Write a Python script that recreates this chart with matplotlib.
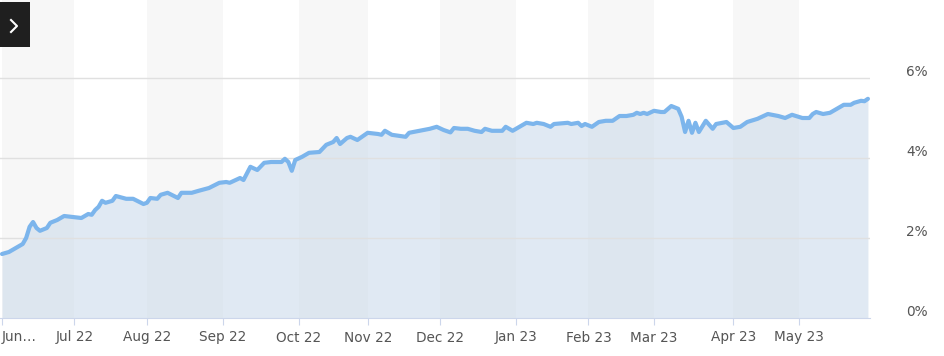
import matplotlib
matplotlib.use("Agg")
import matplotlib.pyplot as plt
import matplotlib.transforms as mtransforms
from matplotlib.lines import Line2D
from matplotlib.patches import Rectangle
import numpy as np

# trading-day index and yield (%)
day_idx = [0, 2, 4, 6, 7, 8, 9, 10, 11, 13, 14, 16, 18, 20, 23, 25, 26, 27, 28, 29,
           30, 32, 33, 36, 38, 41, 42, 43, 45, 46, 48, 51, 52, 55, 57, 60, 63, 65, 66, 69,
           70, 72, 74, 76, 78, 81, 82, 83, 84, 85, 87, 89, 92, 94, 96, 97, 98, 100, 101, 103,
           106, 109, 110, 111, 113, 117, 118, 121, 124, 126, 128, 130, 131, 133, 135, 137, 139, 140, 142, 145,
           146, 148, 152, 154, 155, 157, 159, 160, 164, 165, 167, 168, 169, 171, 173, 175, 177, 179, 181, 183,
           184, 185, 186, 187, 189, 191, 192, 194, 196, 197, 198, 199, 200, 201, 202, 204, 205, 206, 207, 210,
           212, 214, 216, 219, 222, 225, 227, 229, 232, 234, 235, 236, 238, 240, 242, 244, 246, 247, 249, 250,
           251]
yield_pct = [1.60, 1.65, 1.75, 1.85, 2.00, 2.28, 2.40, 2.25, 2.18, 2.25, 2.38, 2.45, 2.55, 2.53, 2.50, 2.60, 2.58, 2.70, 2.78, 2.93,
             2.88, 2.93, 3.05, 2.98, 2.98, 2.85, 2.88, 3.00, 2.98, 3.08, 3.13, 3.00, 3.13, 3.13, 3.18, 3.25, 3.38, 3.40, 3.38, 3.50,
             3.45, 3.78, 3.70, 3.88, 3.90, 3.90, 3.98, 3.90, 3.68, 3.95, 4.03, 4.13, 4.15, 4.33, 4.40, 4.50, 4.35, 4.50, 4.53, 4.45,
             4.63, 4.60, 4.58, 4.68, 4.58, 4.53, 4.63, 4.68, 4.73, 4.78, 4.70, 4.64, 4.75, 4.73, 4.73, 4.68, 4.65, 4.73, 4.68, 4.68,
             4.78, 4.68, 4.88, 4.85, 4.88, 4.85, 4.78, 4.85, 4.88, 4.85, 4.88, 4.80, 4.85, 4.78, 4.90, 4.93, 4.93, 5.05, 5.05, 5.08,
             5.13, 5.10, 5.13, 5.10, 5.18, 5.15, 5.15, 5.30, 5.23, 5.03, 4.65, 4.93, 4.63, 4.88, 4.65, 4.93, 4.83, 4.73, 4.85, 4.90,
             4.75, 4.78, 4.90, 4.98, 5.10, 5.05, 5.00, 5.08, 5.00, 5.00, 5.10, 5.15, 5.10, 5.13, 5.23, 5.33, 5.33, 5.38, 5.43, 5.42,
             5.48]

# trading days per month, Jun 22 .. May 23
month_labels = ["Jun\u2026", "Jul 22", "Aug 22", "Sep 22", "Oct 22", "Nov 22", "Dec 22",
                "Jan 23", "Feb 23", "Mar 23", "Apr 23", "May 23"]
month_days = [21, 21, 22, 22, 20, 21, 22, 21, 19, 23, 19, 21]
y_ticks = [0, 2, 4, 6]

month_start = np.concatenate([[0], np.cumsum(month_days)[:-1]])

W, H = 944, 356
fig = plt.figure(figsize=(W / 100, H / 100), dpi=100)
ax = fig.add_axes([0 / W, (H - 318) / H, 870 / W, 318 / H])

x0, x1 = -0.58, 251.6
ax.set_xlim(x0, x1)
ax.set_ylim(0, 7.95)

# alternate month bands
edges = list(month_start) + [x1]
for i in range(len(month_start)):
    if i % 2 == 0:
        ax.axvspan(max(edges[i], x0), edges[i + 1], color="#f7f7f7", lw=0, zorder=0)

ax.fill_between(day_idx, yield_pct, 0, color="#ccdbeb", alpha=0.6, lw=0, zorder=1)
ax.plot(day_idx, yield_pct, color="#7cb5ec", lw=3, solid_joinstyle="round",
        solid_capstyle="round", zorder=3)

for v in y_ticks[1:]:
    ax.axhline(v, color="#e0e0e0", lw=1, zorder=2)

for s in ["top", "left", "right"]:
    ax.spines[s].set_visible(False)
ax.spines["bottom"].set_color("#ccd6eb")
ax.spines["bottom"].set_zorder(4)

ax.set_xticks(month_start)
ax.set_xticklabels(month_labels)
ax.tick_params(axis="x", length=5, color="#ccd6eb", labelcolor="#555555",
               labelsize=9.8, pad=4)
ax.get_xticklabels()[0].set_horizontalalignment("left")

ax.yaxis.tick_right()
ax.set_yticks(y_ticks)
ax.set_yticklabels(["%d%%" % v for v in y_ticks])
ax.tick_params(axis="y", length=0, labelcolor="#555555", labelsize=9.8, pad=26)
off = mtransforms.ScaledTranslation(0, 8 / 100, fig.dpi_scale_trans)
for lab in ax.get_yticklabels():
    lab.set_transform(lab.get_transform() + off)

# collapse button
fig.add_artist(Rectangle((0, (H - 47) / H), 30 / W, 45 / H, transform=fig.transFigure,
                         color="#1f1f1f", lw=0))
fig.add_artist(Line2D([11 / W, 17 / W, 11 / W],
                      [(H - 20) / H, (H - 26) / H, (H - 32) / H],
                      transform=fig.transFigure, color="white", lw=1.5))

fig.savefig("out.png", dpi=100)
